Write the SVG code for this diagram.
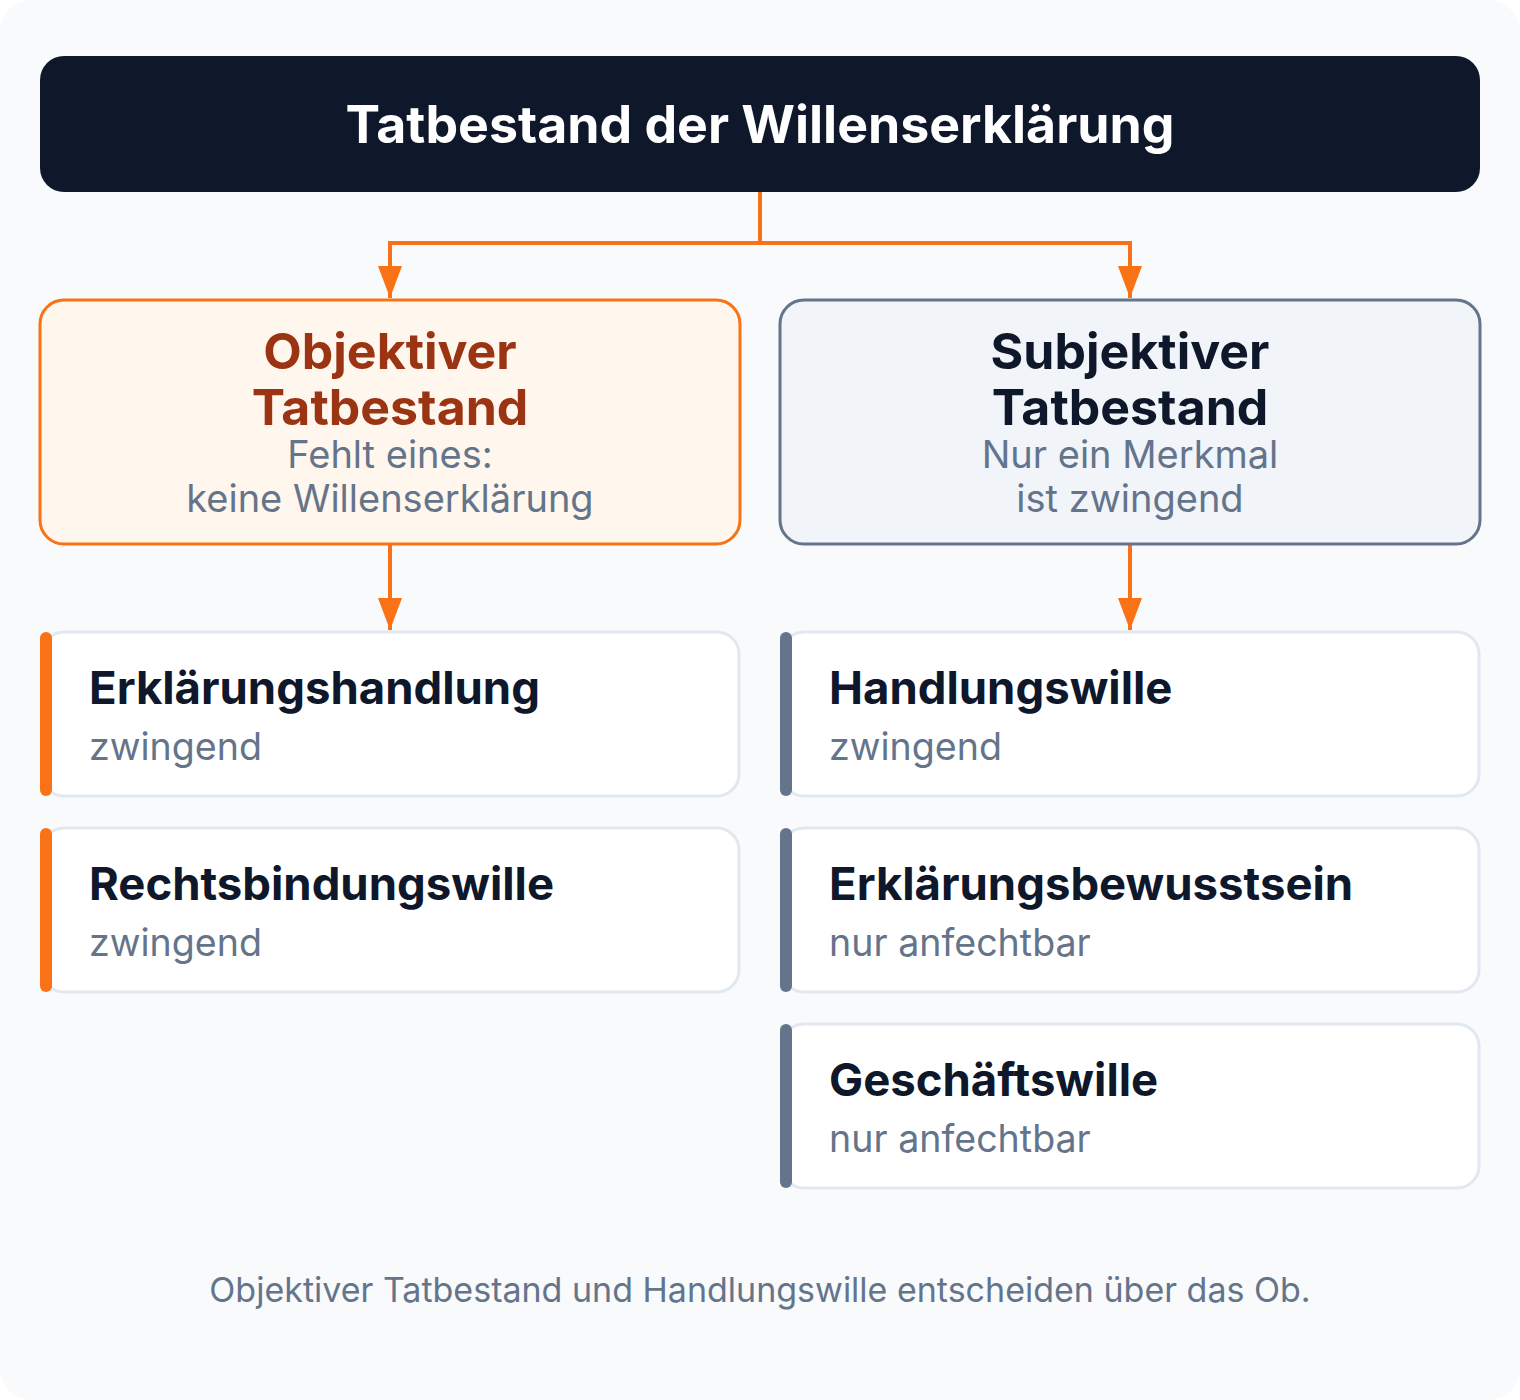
<svg xmlns="http://www.w3.org/2000/svg" width="1520" height="1400" viewBox="0 0 1520 1400">
<defs>
<style>
.t{font-family:Inter,"Noto Sans","Liberation Sans",sans-serif}
.h{font-weight:700}
.sub{fill:#64748b;font-size:38px}
.cs{fill:#64748b;font-size:37.6px}
.card{fill:#ffffff;stroke:#e2e8f0;stroke-width:3}
.ct{font-size:45.5px;font-weight:700;fill:#0f172a}
.conn{fill:none;stroke:#f97316;stroke-width:4}
</style>
<marker id="arr" viewBox="0 0 32 24" refX="32" refY="12" markerWidth="32" markerHeight="24" markerUnits="userSpaceOnUse" orient="auto">
<path d="M0,0 L32,12 L0,24 z" fill="#f97316"/>
</marker>
</defs>
<rect x="0" y="0" width="1520" height="1400" rx="32" fill="#f8fafc"/>
<g id="connectors">
<path class="conn" d="M760,192 V243 H390 V298" marker-end="url(#arr)"/>
<path class="conn" d="M760,243 H1130 V298" marker-end="url(#arr)"/>
<path class="conn" d="M390,544 V630" marker-end="url(#arr)"/>
<path class="conn" d="M1130,544 V630" marker-end="url(#arr)"/>
</g>
<g id="header">
<rect x="40" y="56" width="1440" height="136" rx="24" fill="#0f172a"/>
<text class="t h" x="760" y="143" text-anchor="middle" font-size="51.8" fill="#ffffff">Tatbestand der Willenserklärung</text>
</g>
<g id="objektiv">
<rect x="40" y="300" width="700" height="244" rx="24" fill="#fff7ed" stroke="#f97316" stroke-width="3"/>
<text class="t h" x="390" y="369" text-anchor="middle" font-size="50" fill="#9a3412">Objektiver</text>
<text class="t h" x="390" y="425" text-anchor="middle" font-size="50" fill="#9a3412">Tatbestand</text>
<text class="t sub" x="390" y="468" text-anchor="middle">Fehlt eines:</text>
<text class="t sub" x="390" y="512" text-anchor="middle">keine Willenserklärung</text>
</g>
<g id="subjektiv">
<rect x="780" y="300" width="700" height="244" rx="24" fill="#f1f5f9" stroke="#64748b" stroke-width="3"/>
<text class="t h" x="1130" y="369" text-anchor="middle" font-size="50" fill="#0f172a">Subjektiver</text>
<text class="t h" x="1130" y="425" text-anchor="middle" font-size="50" fill="#0f172a">Tatbestand</text>
<text class="t sub" x="1130" y="468" text-anchor="middle">Nur ein Merkmal</text>
<text class="t sub" x="1130" y="512" text-anchor="middle">ist zwingend</text>
</g>
<g id="erklaerungshandlung">
<rect class="card" x="42" y="632" width="697" height="164" rx="22"/>
<rect x="40" y="632" width="12" height="164" rx="6" fill="#f97316"/>
<text class="t ct" x="89" y="704">Erklärungshandlung</text>
<text class="t cs" x="89" y="760">zwingend</text>
</g>
<g id="rechtsbindungswille">
<rect class="card" x="42" y="828" width="697" height="164" rx="22"/>
<rect x="40" y="828" width="12" height="164" rx="6" fill="#f97316"/>
<text class="t ct" x="89" y="900">Rechtsbindungswille</text>
<text class="t cs" x="89" y="956">zwingend</text>
</g>
<g id="handlungswille">
<rect class="card" x="782" y="632" width="697" height="164" rx="22"/>
<rect x="780" y="632" width="12" height="164" rx="6" fill="#64748b"/>
<text class="t ct" x="829" y="704">Handlungswille</text>
<text class="t cs" x="829" y="760">zwingend</text>
</g>
<g id="erklaerungsbewusstsein">
<rect class="card" x="782" y="828" width="697" height="164" rx="22"/>
<rect x="780" y="828" width="12" height="164" rx="6" fill="#64748b"/>
<text class="t ct" x="829" y="900">Erklärungsbewusstsein</text>
<text class="t cs" x="829" y="956">nur anfechtbar</text>
</g>
<g id="geschaeftswille">
<rect class="card" x="782" y="1024" width="697" height="164" rx="22"/>
<rect x="780" y="1024" width="12" height="164" rx="6" fill="#64748b"/>
<text class="t ct" x="829" y="1096">Geschäftswille</text>
<text class="t cs" x="829" y="1152">nur anfechtbar</text>
</g>
<g id="footer">
<text class="t" x="760" y="1302" text-anchor="middle" font-size="34" fill="#64748b">Objektiver Tatbestand und Handlungswille entscheiden über das Ob.</text>
</g>
</svg>
